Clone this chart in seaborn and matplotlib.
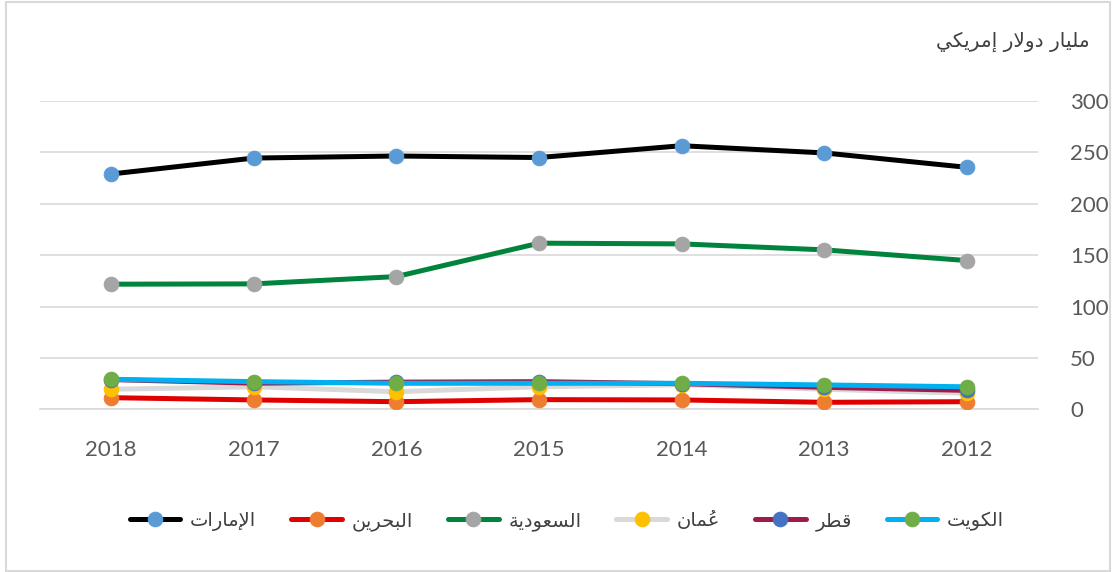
import numpy as np
import pandas as pd
import matplotlib
matplotlib.use("Agg")
import matplotlib.pyplot as plt
from matplotlib.patches import Rectangle
import seaborn as sns

# -----------------------------
# Data
# -----------------------------
years = ["2018", "2017", "2016", "2015", "2014", "2013", "2012"]

uae = [229, 244.5, 246.5, 245, 256.5, 249.5, 235.5]
bahrain = [11.4, 9.2, 7.5, 9.5, 9.2, 6.9, 7.5]
saudi = [121.8, 122.1, 129.2, 161.7, 161, 155.2, 144.8]
oman = [19.6, 22, 17.2, 22, 24, 19.6, 15.7]
qatar = [29, 25.5, 26.5, 27, 25, 21.5, 18.5]
kuwait = [29.3, 27, 25.4, 25.4, 25.4, 23.8, 22]

names = ["الإمارات", "البحرين", "السعودية", "عُمان", "قطر", "الكويت"]
line_colors = ["#000000", "#E00000", "#00843D", "#D9D9D9", "#9E1B4B", "#00B0F0"]
marker_colors = ["#5B9BD5", "#ED7D31", "#A5A5A5", "#FFC000", "#4472C4", "#70AD47"]

unit_label = "مليار دولار إمريكي"

# -----------------------------
# Tiny Arabic shaper (matplotlib has no text shaping)
# -----------------------------
FORMS = {
    "\u0627": ("\uFE8D", "\uFE8E", None, None),
    "\u0625": ("\uFE87", "\uFE88", None, None),
    "\u0623": ("\uFE83", "\uFE84", None, None),
    "\u0644": ("\uFEDD", "\uFEDE", "\uFEDF", "\uFEE0"),
    "\u0645": ("\uFEE1", "\uFEE2", "\uFEE3", "\uFEE4"),
    "\u0631": ("\uFEAD", "\uFEAE", None, None),
    "\u062A": ("\uFE95", "\uFE96", "\uFE97", "\uFE98"),
    "\u0628": ("\uFE8F", "\uFE90", "\uFE91", "\uFE92"),
    "\u062D": ("\uFEA1", "\uFEA2", "\uFEA3", "\uFEA4"),
    "\u064A": ("\uFEF1", "\uFEF2", "\uFEF3", "\uFEF4"),
    "\u0646": ("\uFEE5", "\uFEE6", "\uFEE7", "\uFEE8"),
    "\u0633": ("\uFEB1", "\uFEB2", "\uFEB3", "\uFEB4"),
    "\u0639": ("\uFEC9", "\uFECA", "\uFECB", "\uFECC"),
    "\u0648": ("\uFEED", "\uFEEE", None, None),
    "\u062F": ("\uFEA9", "\uFEAA", None, None),
    "\u0629": ("\uFE93", "\uFE94", None, None),
    "\u0642": ("\uFED5", "\uFED6", "\uFED7", "\uFED8"),
    "\u0637": ("\uFEC1", "\uFEC2", "\uFEC3", "\uFEC4"),
    "\u0643": ("\uFED9", "\uFEDA", "\uFEDB", "\uFEDC"),
}
LAM_ALEF = {"\u0627": ("\uFEFB", "\uFEFC"), "\u0625": ("\uFEF9", "\uFEFA"),
            "\u0623": ("\uFEF7", "\uFEF8")}
HARAKAT = set("\u064B\u064C\u064D\u064E\u064F\u0650\u0651\u0652")


def joins_next(c):
    return c in FORMS and FORMS[c][2] is not None


def shape(text):
    clusters = []
    for ch in text:
        if ch in HARAKAT and clusters:
            clusters[-1][1].append(ch)
        else:
            clusters.append([ch, []])
    out = []
    i = 0
    n = len(clusters)
    while i < n:
        ch, marks = clusters[i]
        prev = clusters[i - 1][0] if i > 0 else None
        nxt = clusters[i + 1][0] if i + 1 < n else None
        link_prev = prev is not None and joins_next(prev) and ch in FORMS
        if ch == "\u0644" and nxt in LAM_ALEF:
            out.append((LAM_ALEF[nxt][1 if link_prev else 0], marks + clusters[i + 1][1]))
            i += 2
            continue
        if ch in FORMS:
            iso, fin, ini, med = FORMS[ch]
            link_next = joins_next(ch) and nxt in FORMS
            if link_prev and link_next:
                g = med
            elif link_prev:
                g = fin
            elif link_next:
                g = ini
            else:
                g = iso
        else:
            g = ch
        out.append((g, marks))
        i += 1
    # marks go just before their base in visual (left-to-right) order
    return "".join("".join(m) + g for g, m in reversed(out))


# -----------------------------
# Style
# -----------------------------
sns.set_theme(style="white")
plt.rcParams["font.family"] = ["Lato", "DejaVu Sans"]

fig = plt.figure(figsize=(11.13, 5.72), dpi=100)
ax = fig.add_axes([40 / 1113, 1 - 409.4 / 572, 998 / 1113, 308.4 / 572])

x = np.arange(len(years))
series = [uae, bahrain, saudi, oman, qatar, kuwait]

for i, vals in enumerate(series):
    df = pd.DataFrame({"pos": x, "value": vals})
    sns.lineplot(data=df, x="pos", y="value", ax=ax,
                 color=line_colors[i], linewidth=3.6,
                 marker="o", markersize=10.5,
                 markerfacecolor=marker_colors[i],
                 markeredgecolor=marker_colors[i],
                 label=shape(names[i]), zorder=3 + i)

# -----------------------------
# Axes
# -----------------------------
ax.set_xlim(-0.5, len(years) - 0.5)
ax.set_ylim(0, 300)
ax.set_xticks(x)
ax.set_xticklabels(years)
ax.set_xticks(np.arange(-0.5, len(years), 1), minor=True)
ax.set_yticks(np.arange(0, 301, 50))
ax.yaxis.tick_right()
ax.set_xlabel("")
ax.set_ylabel("")

ax.tick_params(axis="x", which="major", length=0, pad=22,
               labelsize=16, labelcolor="#595959")
ax.tick_params(axis="x", which="minor", length=8, width=1.2,
               color="#D9D9D9", direction="out")
ax.tick_params(axis="y", length=0, pad=23, labelsize=16, labelcolor="#595959")

ax.grid(axis="y", color="#D9D9D9", linewidth=1.2)
ax.grid(axis="x", visible=False)
for side in ["left", "top", "right"]:
    ax.spines[side].set_visible(False)
ax.spines["bottom"].set_color("#D9D9D9")
ax.spines["bottom"].set_linewidth(1.2)

# unit label
fig.text(1090 / 1113, 1 - 42 / 572, shape(unit_label), ha="right", va="center",
         fontsize=14.5, color="#404040", family="DejaVu Sans")

# legend
handles, labels = ax.get_legend_handles_labels()
ax.get_legend().remove()
fig.legend(handles, labels, loc="center", bbox_to_anchor=(567 / 1113, 1 - 521 / 572),
           ncol=6, frameon=False, handlelength=2.6, handletextpad=0.5,
           columnspacing=1.8, prop={"family": "DejaVu Sans", "size": 14},
           labelcolor="#404040")

# border
fig.patches.append(Rectangle((6 / 1113, 1 / 572), 1104 / 1113, 569 / 572,
                             transform=fig.transFigure, fill=False,
                             edgecolor="#D9D9D9", linewidth=1.5))

fig.savefig("out.png", dpi=100)
plt.close(fig)
